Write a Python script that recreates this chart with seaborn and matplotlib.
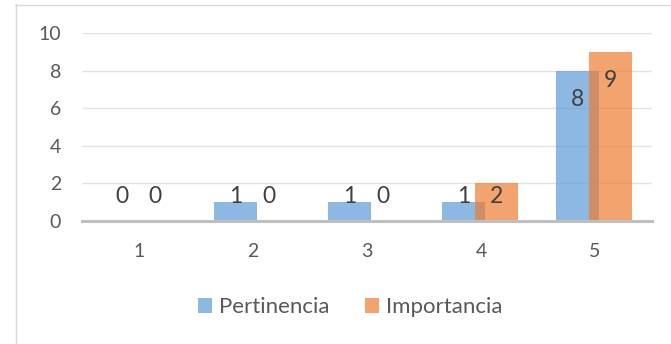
import matplotlib
matplotlib.use("Agg")
import matplotlib.pyplot as plt
from matplotlib.lines import Line2D
import seaborn as sns
import pandas as pd

# Survey scores: count of responses per rating
categories = [1, 2, 3, 4, 5]
pertinencia = [0, 1, 1, 1, 8]
importancia = [0, 0, 0, 2, 9]
series_names = ["Pertinencia", "Importancia"]
y_ticks = [0, 2, 4, 6, 8, 10]

BLUE = "#5B9BD5"
ORANGE = "#ED7D31"
TEXT = "#595959"

sns.set_style("white")
plt.rcParams["font.family"] = ["Lato", "DejaVu Sans"]

fig = plt.figure(figsize=(6.71, 3.44), dpi=100)
ax = fig.add_axes([82 / 671, 1 - 221 / 344, 570 / 671, 188 / 344])

offsets = [-0.153, 0.136]
colors = [BLUE, ORANGE]
values = [pertinencia, importancia]

for name, vals, off, col in zip(series_names, values, offsets, colors):
    df = pd.DataFrame({"pos": [c + off for c in categories], "val": vals})
    sns.barplot(data=df, x="pos", y="val", native_scale=True, orient="x",
                width=0.38, color=col, saturation=1, alpha=0.7, errorbar=None,
                linewidth=0, label=name, ax=ax, zorder=3)
    for c, v in zip(categories, vals):
        ax.text(c + off, max(v - 1.55, 1.28), str(v), ha="center", va="center",
                fontsize=16.5, color="#404040", zorder=5)

ax.set_xlim(0.5, 5.5)
ax.set_ylim(0, 10)
ax.set_xticks(categories)
ax.set_xticklabels([str(c) for c in categories])
ax.set_yticks(y_ticks)
ax.set_xlabel("")
ax.set_ylabel("")
ax.tick_params(axis="both", length=0, labelsize=14, labelcolor=TEXT)
ax.tick_params(axis="x", pad=16)
ax.tick_params(axis="y", pad=15)
ax.grid(axis="y", color="#e3e3e3", linewidth=1.0, zorder=0)
ax.grid(axis="x", visible=False)
for s in ["top", "right", "left"]:
    ax.spines[s].set_visible(False)
ax.spines["bottom"].set_color("#bfbfbf")
ax.spines["bottom"].set_linewidth(2.2)
ax.spines["bottom"].set_zorder(4)

handles, labels = ax.get_legend_handles_labels()
leg = fig.legend(handles, labels, loc="center", bbox_to_anchor=(350 / 671, 1 - 307 / 344),
                 ncol=2, frameon=False, fontsize=16, handlelength=0.65,
                 handleheight=0.65, handletextpad=0.3, columnspacing=1.6)
for t in leg.get_texts():
    t.set_color(TEXT)
if ax.get_legend() is not None:
    ax.get_legend().remove()

# chart frame
fig.add_artist(Line2D([15.5 / 671, 15.5 / 671], [0, 1 - 4 / 344], color="#d9d9d9", linewidth=1.0))
fig.add_artist(Line2D([15 / 671, 1], [1 - 4.5 / 344, 1 - 4.5 / 344], color="#d9d9d9", linewidth=1.0))

fig.savefig("out.png", dpi=100)
